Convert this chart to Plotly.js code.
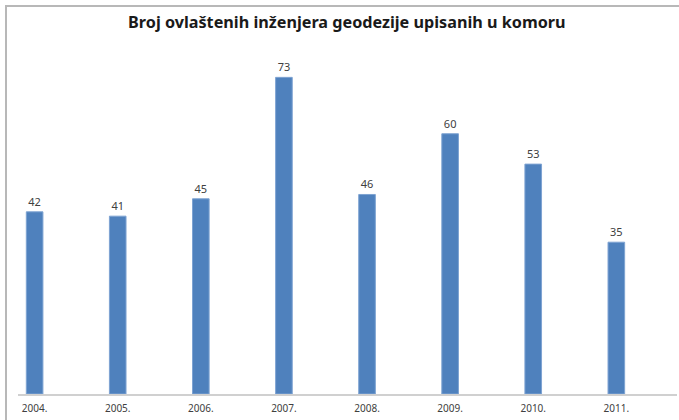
<!DOCTYPE html>
<html><head><meta charset="utf-8">
<script src="https://cdn.plot.ly/plotly-3.0.1.min.js"></script>
<style>
html,body{margin:0;padding:0;background:#fff;}
#wrap{position:relative;width:679px;height:420px;}
#chart{position:absolute;left:0;top:0;width:679px;height:420px;}
#frame{position:absolute;left:5px;top:5px;width:680px;height:420px;border-top:2px solid #b8b8b8;border-left:2px solid #b8b8b8;pointer-events:none;}
</style></head>
<body><div id="wrap"><div id="chart"></div><div id="frame"></div></div>
<script>
const years = ["2004.","2005.","2006.","2007.","2008.","2009.","2010.","2011."];
const values = [42,41,45,73,46,60,53,35];
const titleText = "Broj ovlaštenih inženjera geodezije upisanih u komoru";

const trace = {
  type: 'bar',
  x: years.map((_, i) => i),
  y: values,
  text: values.map(String),
  textposition: 'outside',
  cliponaxis: false,
  textfont: {family: 'Noto Sans, sans-serif', size: 11, color: '#404040'},
  width: 0.2,
  marker: {color: '#4F81BD', line: {color: '#7EA3D2', width: 1}},
  hoverinfo: 'none'
};

const layout = {
  width: 679, height: 420,
  margin: {l: 18, r: 2, t: 47, b: 26},
  paper_bgcolor: '#ffffff', plot_bgcolor: '#ffffff',
  showlegend: false,
  title: {text: '<b>' + titleText + '</b>', x: 0.499, xref: 'paper', xanchor: 'center', y: 0.947, yanchor: 'middle',
          font: {family: 'Noto Sans, sans-serif', size: 16.2, color: '#1a1a1a'}},
  xaxis: {
    range: [-0.2, 7.73],
    tickvals: years.map((_, i) => i), ticktext: years,
    showgrid: false, zeroline: false,
    showline: true, linecolor: '#d0d0d0', linewidth: 1.5,
    ticks: '', ticklen: 0, ticklabelstandoff: 4,
    tickfont: {family: 'Noto Sans, sans-serif', size: 10, color: '#404040'},
    fixedrange: true
  },
  yaxis: {
    range: [0, 80], visible: false, showgrid: false, zeroline: false, fixedrange: true
  }
};

Plotly.newPlot('chart', [trace], layout, {displayModeBar: false, staticPlot: true});
</script></body></html>
